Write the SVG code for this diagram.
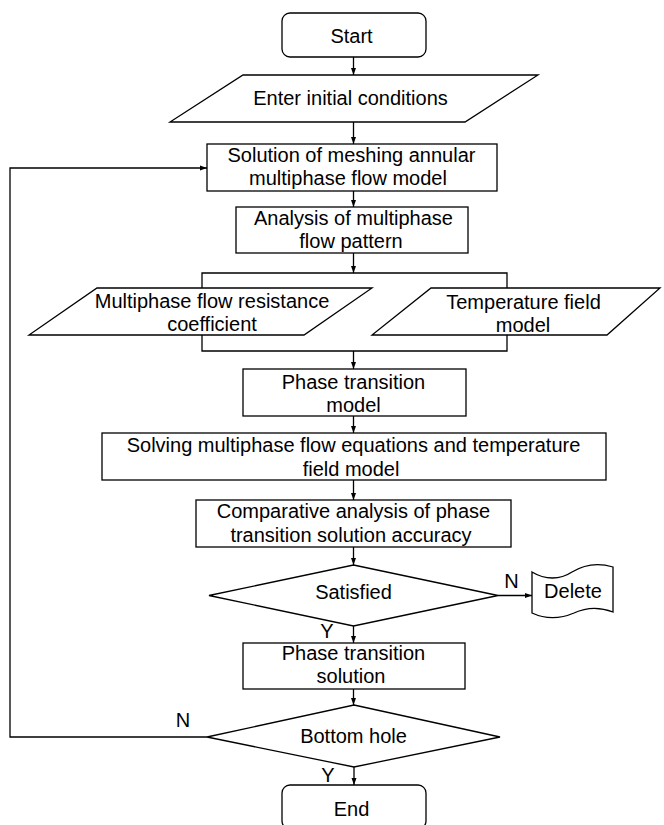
<svg xmlns="http://www.w3.org/2000/svg" width="664" height="825" viewBox="0 0 664 825">
<style>
.s{fill:#fff;stroke:#000;stroke-width:1.3}
.c{fill:none;stroke:#000;stroke-width:1.3}
.t{font-family:"Liberation Sans",Arial,sans-serif;font-size:20px;fill:#000;text-anchor:middle}
</style>
<defs>
<marker id="ah" markerUnits="userSpaceOnUse" markerWidth="8" markerHeight="6" refX="7" refY="3" orient="auto">
<path d="M0,0.5 L7,3 L0,5.5 z" fill="#000"/>
</marker>
</defs>
<rect width="664" height="825" fill="#fff"/>
<g id="connectors">
<path class="c" d="M353.5,57 V75" marker-end="url(#ah)"/>
<path class="c" d="M353.5,122 V144" marker-end="url(#ah)"/>
<path class="c" d="M353.5,191 V207" marker-end="url(#ah)"/>
<path class="c" d="M353.5,253 V273" marker-end="url(#ah)"/>
<path class="c" d="M202,288 V273 H507 V288"/>
<path class="c" d="M202,335 V351 H507 V335"/>
<path class="c" d="M353.5,351 V369" marker-end="url(#ah)"/>
<path class="c" d="M353.5,416 V433" marker-end="url(#ah)"/>
<path class="c" d="M353.5,480 V500" marker-end="url(#ah)"/>
<path class="c" d="M353.5,547 V565" marker-end="url(#ah)"/>
<path class="c" d="M498,595.5 H532" marker-end="url(#ah)"/>
<path class="c" d="M353.5,626 V643" marker-end="url(#ah)"/>
<path class="c" d="M353.5,689 V705" marker-end="url(#ah)"/>
<path class="c" d="M354,767 V785" marker-end="url(#ah)"/>
<path class="c" d="M207,737 H10 V168 H207" marker-end="url(#ah)"/>
<text class="t" x="511.5" y="588">N</text>
<text class="t" x="327" y="638">Y</text>
<text class="t" x="183" y="727">N</text>
<text class="t" x="328" y="782">Y</text>
</g>
<g id="start">
<rect class="s" x="282" y="13" width="144" height="44" rx="8"/>
<text class="t" x="351.5" y="43">Start</text>
</g>
<g id="enter">
<path class="s" d="M243,75 H538 L465,122 H170 Z"/>
<text class="t" x="350.5" y="105">Enter initial conditions</text>
</g>
<g id="solution">
<rect class="s" x="207" y="144" width="290" height="47"/>
<text class="t" x="351.5" y="162">Solution of meshing annular</text>
<text class="t" x="348" y="185">multiphase flow model</text>
</g>
<g id="analysis">
<rect class="s" x="236" y="207" width="232" height="46"/>
<text class="t" x="353.5" y="225">Analysis of multiphase</text>
<text class="t" x="351" y="248">flow pattern</text>
</g>
<g id="resistance">
<path class="s" d="M97,288 H372 L304,335 H29 Z"/>
<text class="t" x="212" y="308">Multiphase flow resistance</text>
<text class="t" x="212" y="331">coefficient</text>
</g>
<g id="temperature">
<path class="s" d="M431,288 H660 L607,335 H372 Z"/>
<text class="t" x="523.5" y="309">Temperature field</text>
<text class="t" x="523" y="332">model</text>
</g>
<g id="phasemodel">
<rect class="s" x="243" y="369" width="223" height="47"/>
<text class="t" x="353.5" y="389">Phase transition</text>
<text class="t" x="353.5" y="412">model</text>
</g>
<g id="solving">
<rect class="s" x="102" y="433" width="504" height="47"/>
<text class="t" x="353.5" y="452">Solving multiphase flow equations and temperature</text>
<text class="t" x="351" y="476">field model</text>
</g>
<g id="comparative">
<rect class="s" x="196" y="500" width="315" height="47"/>
<text class="t" x="353.5" y="518">Comparative analysis of phase</text>
<text class="t" x="351" y="542">transition solution accuracy</text>
</g>
<g id="satisfied">
<path class="s" d="M353.5,565 L498,595.5 L353.5,626 L209,595.5 Z"/>
<text class="t" x="353.5" y="599">Satisfied</text>
</g>
<g id="delete">
<path class="s" d="M532,572 C545,580 560,580 572,572 C585,564 600,563 613,567 V612 C600,607 587,607 574,613 C560,619 545,619 532,613 Z"/>
<text class="t" x="573" y="598">Delete</text>
</g>
<g id="phasesolution">
<rect class="s" x="243" y="643" width="222" height="46"/>
<text class="t" x="353.5" y="660">Phase transition</text>
<text class="t" x="351" y="683">solution</text>
</g>
<g id="bottomhole">
<path class="s" d="M354,705 L500,737 L354,767 L207,737 Z"/>
<text class="t" x="353.5" y="743">Bottom hole</text>
</g>
<g id="end">
<rect class="s" x="282" y="785" width="144" height="44" rx="8"/>
<text class="t" x="351.5" y="816">End</text>
</g>
</svg>
